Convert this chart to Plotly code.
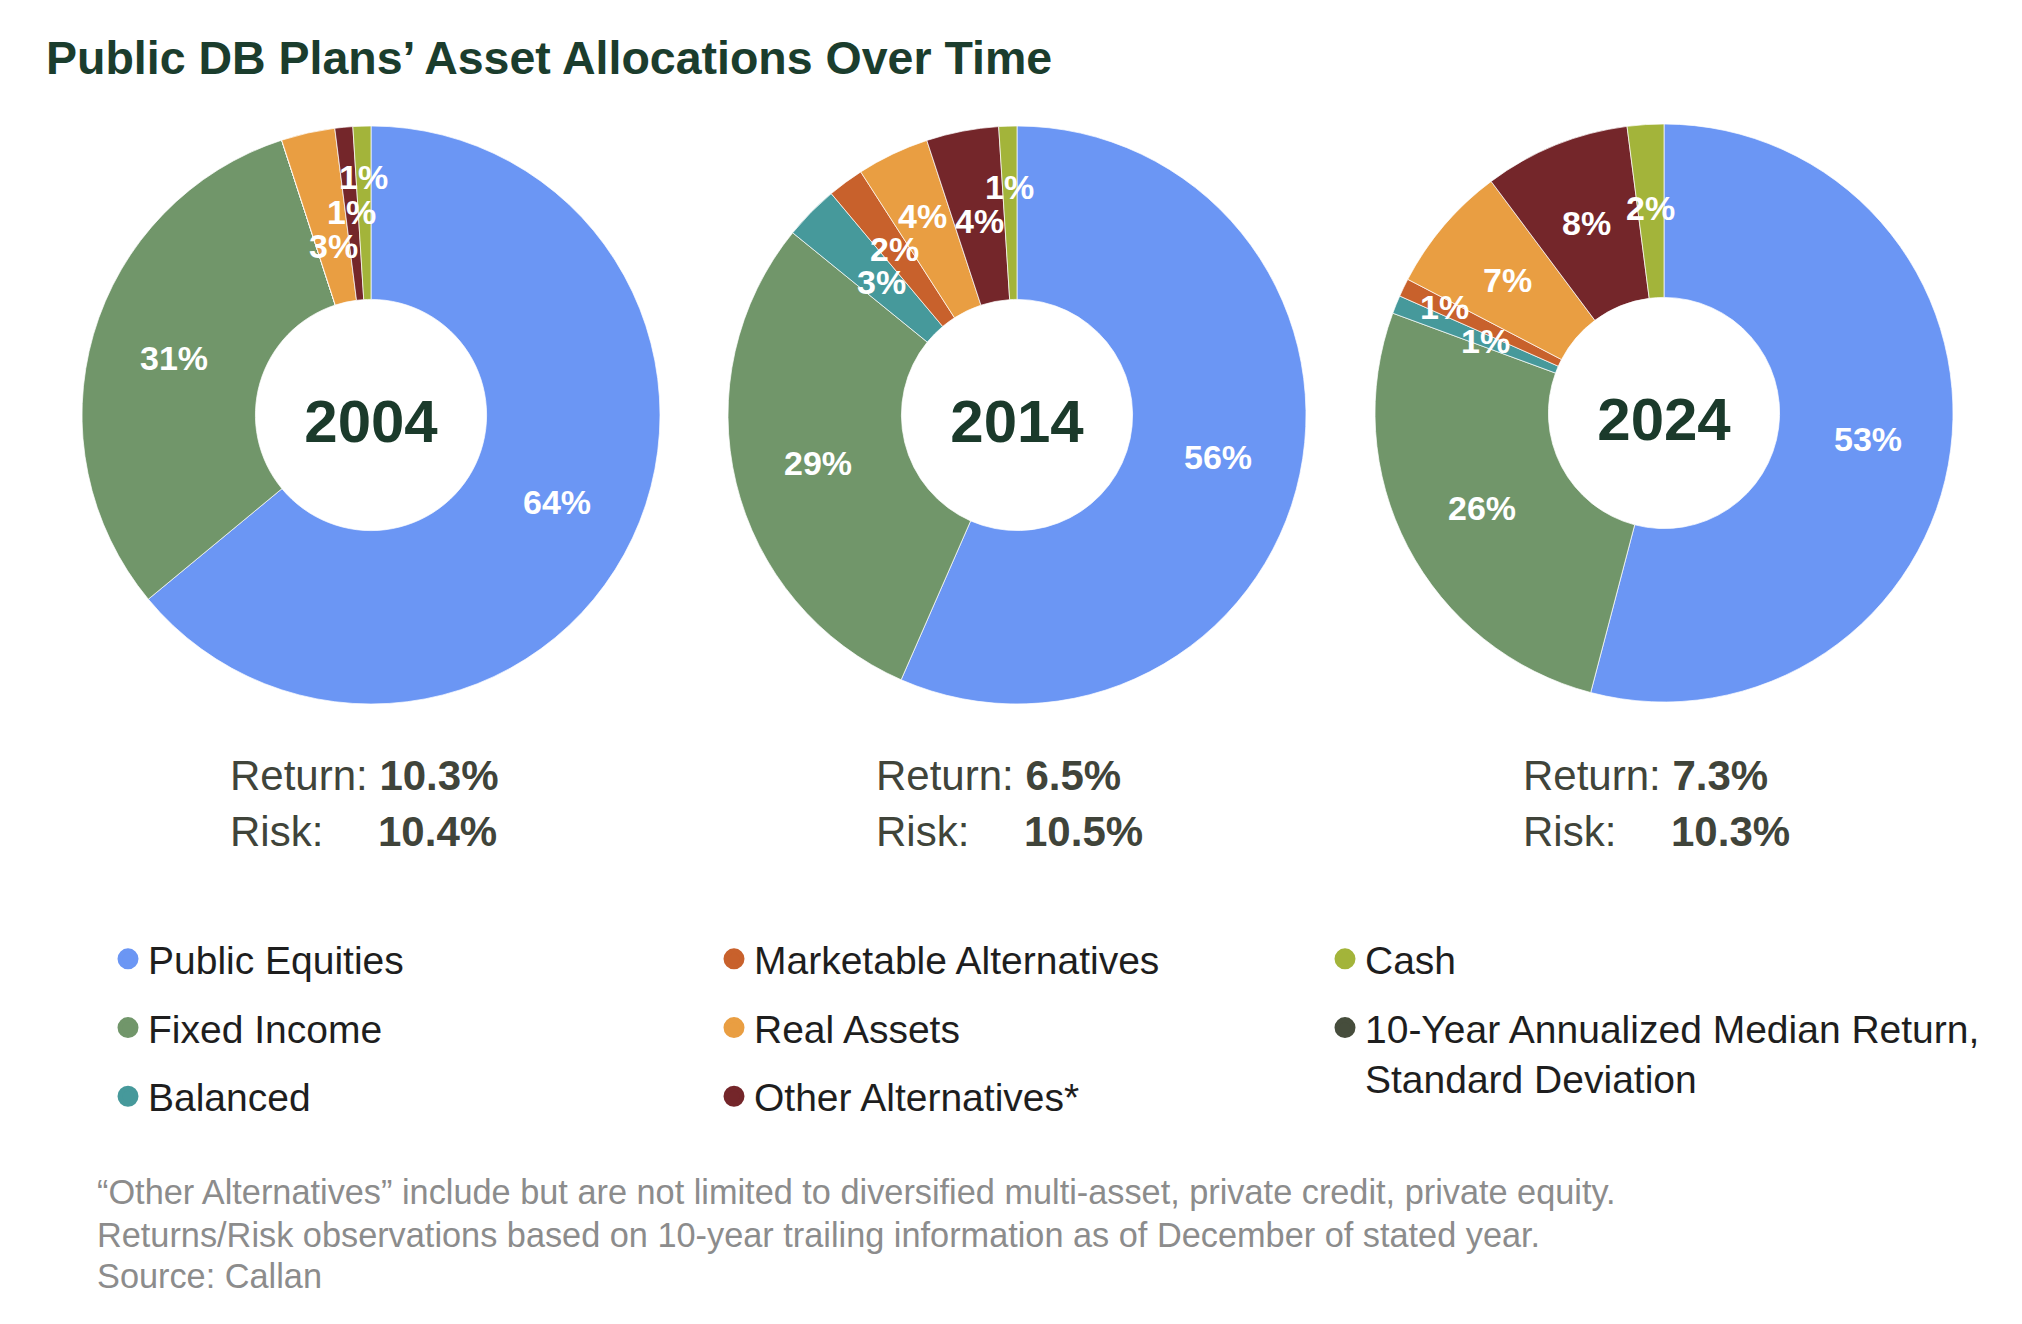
import math
import plotly.graph_objects as go

W, H = 2022, 1324

# ---- data ----
categories = ["Public Equities", "Fixed Income", "Balanced", "Marketable Alternatives",
              "Real Assets", "Other Alternatives*", "Cash"]
colors = ["#6b96f4", "#71966a", "#46999b", "#c8612c", "#e99e42", "#74262a", "#a3b43a"]
years = ["2004", "2014", "2024"]
alloc_2004 = [64, 31, 0, 0, 3, 1, 1]
alloc_2014 = [56, 29, 3, 2, 4, 4, 1]
alloc_2024 = [53, 26, 1, 1, 7, 8, 2]
returns = ["10.3%", "6.5%", "7.3%"]
risks = ["10.4%", "10.5%", "10.3%"]
extra_legend = "10-Year Annualized Median Return,<br>Standard Deviation"
extra_color = "#464d3c"
footnotes = [
    "\u201cOther Alternatives\u201d include but are not limited to diversified multi-asset, private credit, private equity.",
    "Returns/Risk observations based on 10-year trailing information as of December of stated year.",
    "Source: Callan",
]

# ---- layout geometry (pixels) ----
centers = [(363, 407), (1009, 407), (1656, 405)]
radius = 289
HOLE = 0.4
FONT = "Liberation Sans, Arial, sans-serif"
LABEL_SIZE = 34


def px_to_paper(x, y):
    return x / W, 1 - y / H


def slice_labels(vals, cx, cy, R):
    """Place horizontal labels at the middle of the ring along each slice's
    mid-angle, nudging crowded labels radially so they do not collide."""
    total = float(sum(vals))
    r0 = 0.71 * R
    placed, items = [], []
    cum = 0.0
    for v in vals:
        if v == 0:
            continue
        mid = (cum + v / 2.0) / total * 2 * math.pi
        cum += v
        txt = f"{v}%"
        w = LABEL_SIZE * (0.556 * (len(txt) - 1) + 0.889)
        h = LABEL_SIZE
        r = r0
        while True:
            x = cx + r * math.sin(mid)
            y = cy - r * math.cos(mid)
            if all(abs(x - px) >= (w + pw) / 2 or abs(y - py) >= (h + ph) / 2
                   for px, py, pw, ph in placed):
                break
            r += 1
        placed.append((x, y, w, h))
        items.append({"mid": mid, "r": r, "txt": txt, "pushed": r > r0})
    # re-centre chains of pushed labels
    chains, cur = [], []
    for it in items:
        if it["pushed"] and cur:
            cur.append(it)
        else:
            if cur:
                chains.append(cur)
            cur = [it]
    if cur:
        chains.append(cur)
    out = []
    for ch in chains:
        spread = max(i["r"] for i in ch) - r0
        if len(ch) >= 3:
            shift = -spread / 2.0
        elif len(ch) == 2:
            shift = -spread / 4.0
        else:
            shift = 0.0
        for it in ch:
            r = it["r"] + shift
            out.append((cx + r * math.sin(it["mid"]), cy - r * math.cos(it["mid"]), it["txt"]))
    return out


fig = go.Figure()
annotations = []

for year, vals, (cx, cy) in zip(years, [alloc_2004, alloc_2014, alloc_2024], centers):
    x0, y1 = px_to_paper(cx - radius, cy - radius)
    x1, y0 = px_to_paper(cx + radius, cy + radius)
    fig.add_trace(go.Pie(
        labels=categories,
        values=vals,
        textinfo="none",
        marker=dict(colors=colors, line=dict(color="rgba(255,255,255,0.7)", width=1)),
        hole=HOLE,
        sort=False,
        direction="clockwise",
        rotation=0,
        showlegend=False,
        domain=dict(x=[x0, x1], y=[y0, y1]),
        title=dict(text=year, position="middle center",
                   font=dict(family=FONT, size=60, color="#1b3a2b", weight="bold")),
        hoverinfo="label+percent",
    ))
    for lx, ly, txt in slice_labels(vals, cx, cy, radius):
        ax, ay = px_to_paper(lx, ly)
        annotations.append(dict(
            x=ax, y=ay, xref="paper", yref="paper", xanchor="center", yanchor="middle",
            text=f"<b>{txt}</b>", showarrow=False,
            font=dict(family=FONT, size=LABEL_SIZE, color="white"),
        ))

# legend entries (three columns)
legend_cols = [[0, 1, 2], [3, 4, 5], [6, 7]]
legend_names = ["legend", "legend2", "legend3"]
for li, idxs in enumerate(legend_cols):
    for i in idxs:
        if i < len(categories):
            name, col = categories[i], colors[i]
        else:
            name, col = extra_legend, extra_color
        fig.add_trace(go.Scatter(
            x=[None], y=[None], mode="markers", name=name,
            marker=dict(size=30, color=col, line=dict(color=col, width=5)),
            legend=legend_names[li], legendgroup=name, showlegend=True,
            hoverinfo="skip",
        ))

leg_common = dict(
    xref="container", yref="container", xanchor="left", yanchor="top",
    font=dict(family=FONT, size=39, color="#1e1e1e"),
    bgcolor="rgba(0,0,0,0)", tracegroupgap=15, itemclick=False, itemdoubleclick=False,
    valign="top",
)
leg_x = [100, 706, 1317]
leg_y = 1 - 919 / H

for (cx, cy), r_, k_ in zip(centers, returns, risks):
    left = cx - 143
    annotations.append(dict(
        x=left / W, y=1 - 767 / H, xref="paper", yref="paper", xanchor="left", yanchor="middle",
        text=f"Return: <b>{r_}</b>", showarrow=False,
        font=dict(family=FONT, size=42, color="#40443a"),
    ))
    annotations.append(dict(
        x=left / W, y=1 - 823 / H, xref="paper", yref="paper", xanchor="left", yanchor="middle",
        text="Risk:", showarrow=False,
        font=dict(family=FONT, size=42, color="#40443a"),
    ))
    annotations.append(dict(
        x=(left + 148) / W, y=1 - 823 / H, xref="paper", yref="paper", xanchor="left", yanchor="middle",
        text=f"<b>{k_}</b>", showarrow=False,
        font=dict(family=FONT, size=42, color="#40443a"),
    ))

for line, yy in zip(footnotes, [1184, 1227, 1268]):
    annotations.append(dict(
        x=87 / W, y=1 - yy / H, xref="paper", yref="paper", xanchor="left", yanchor="middle",
        text=line, showarrow=False,
        font=dict(family=FONT, size=34.3, color="#8c8c8c"),
    ))

fig.update_layout(
    width=W, height=H,
    margin=dict(l=0, r=0, t=0, b=0, autoexpand=False),
    paper_bgcolor="white", plot_bgcolor="white",
    title=dict(text="Public DB Plans\u2019 Asset Allocations Over Time",
               x=38 / W, xanchor="left", xref="container",
               y=1 - 50 / H, yanchor="middle", yref="container",
               font=dict(family=FONT, size=46.5, color="#1b3d2d", weight="bold")),
    xaxis=dict(visible=False), yaxis=dict(visible=False),
    legend=dict(x=leg_x[0] / W, y=leg_y, **leg_common),
    legend2=dict(x=leg_x[1] / W, y=leg_y, **leg_common),
    legend3=dict(x=leg_x[2] / W, y=leg_y, **leg_common),
    annotations=annotations,
)

fig.write_html("out.html")
